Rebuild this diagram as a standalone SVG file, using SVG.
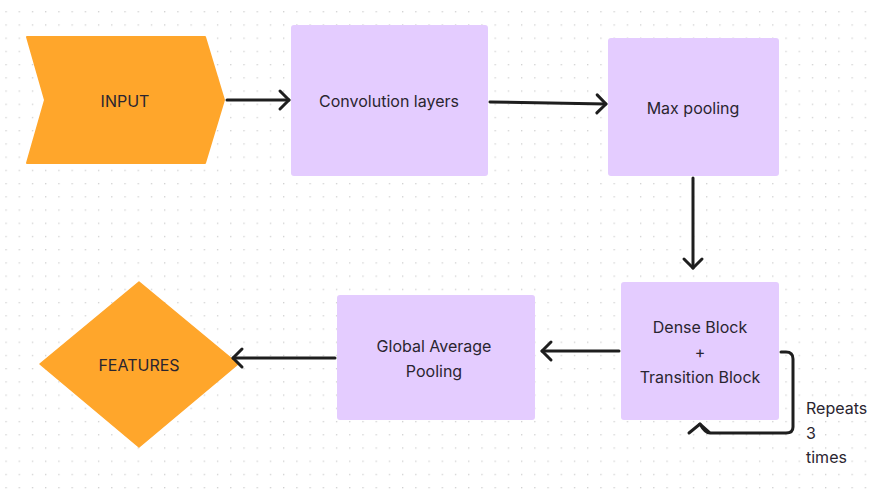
<svg xmlns="http://www.w3.org/2000/svg" width="875" height="497" viewBox="0 0 875 497">
  <defs>
    <pattern id="dots" x="5.4" y="11.1" width="13.22" height="13.22" patternUnits="userSpaceOnUse">
      <rect x="0" y="0" width="1.3" height="1.3" fill="#cfcfcf"/>
    </pattern>
    <marker id="arr" viewBox="-12 -12 16 24" markerWidth="16" markerHeight="24" refX="0" refY="0" orient="auto" markerUnits="userSpaceOnUse">
      <path d="M-9,-9 L0,0 L-9,9" fill="none" stroke="#1e1e1e" stroke-width="3" stroke-linecap="round" stroke-linejoin="round"/>
    </marker>
    <style>
      .lbl { font-family: Inter, "Noto Sans", "Liberation Sans", sans-serif; font-size: 16px; fill: #2a2530; }
      .c { text-anchor: middle; dominant-baseline: central; }
      .box { fill: #E4CCFF; }
      .orange { fill: #FFA62B; }
      .conn { fill: none; stroke: #1e1e1e; stroke-width: 3; stroke-linecap: round; stroke-linejoin: round; }
    </style>
  </defs>
  <rect width="875" height="497" fill="#ffffff"/>
  <rect width="875" height="497" fill="url(#dots)"/>

  <g id="input">
    <path class="orange" d="M27,37 L205,37 L224,100 L205,163 L27,163 L45,100 Z" stroke="#FFA62B" stroke-width="2" stroke-linejoin="round"/>
    <text class="lbl c" x="125" y="101">INPUT</text>
  </g>

  <g id="conv">
    <rect class="box" x="291" y="25" width="197" height="151" rx="3"/>
    <text class="lbl c" x="389" y="101">Convolution layers</text>
  </g>

  <g id="maxpool">
    <rect class="box" x="608" y="38" width="171" height="138" rx="3"/>
    <text class="lbl c" x="693" y="108">Max pooling</text>
  </g>

  <g id="dense">
    <rect class="box" x="621" y="282" width="158" height="138" rx="3"/>
    <text class="lbl c" x="700" y="327">Dense Block</text>
    <text class="lbl c" x="700" y="352">+</text>
    <text class="lbl c" x="700" y="377">Transition Block</text>
  </g>

  <g id="gap">
    <rect class="box" x="337" y="295" width="198" height="125" rx="3"/>
    <text class="lbl c" x="434" y="346">Global Average</text>
    <text class="lbl c" x="434" y="371">Pooling</text>
  </g>

  <g id="features">
    <path class="orange" d="M139,282 L238,364 L139,447 L40,364 Z" stroke="#FFA62B" stroke-width="1.5" stroke-linejoin="round"/>
    <text class="lbl c" x="139" y="365">FEATURES</text>
  </g>

  <g id="connectors">
    <path class="conn" d="M227,100 L289,100" marker-end="url(#arr)"/>
    <path class="conn" d="M490,102 L606,104" marker-end="url(#arr)"/>
    <path class="conn" d="M693,178 L693,268" marker-end="url(#arr)"/>
    <path class="conn" d="M619,351 L542,351" marker-end="url(#arr)"/>
    <path class="conn" d="M335,358 L233,358" marker-end="url(#arr)"/>
    <path class="conn" d="M781,352 L786,352 Q793,352 793,359 L793,427 Q793,433 786,433 L710,433 Q705,433 700,424"/>
    <path class="conn" d="M689,433 L700,424 L709,432"/>
  </g>

  <g id="repeat-label">
    <text class="lbl" x="806" y="414">Repeats</text>
    <text class="lbl" x="806" y="439">3</text>
    <text class="lbl" x="806" y="463">times</text>
  </g>
</svg>
